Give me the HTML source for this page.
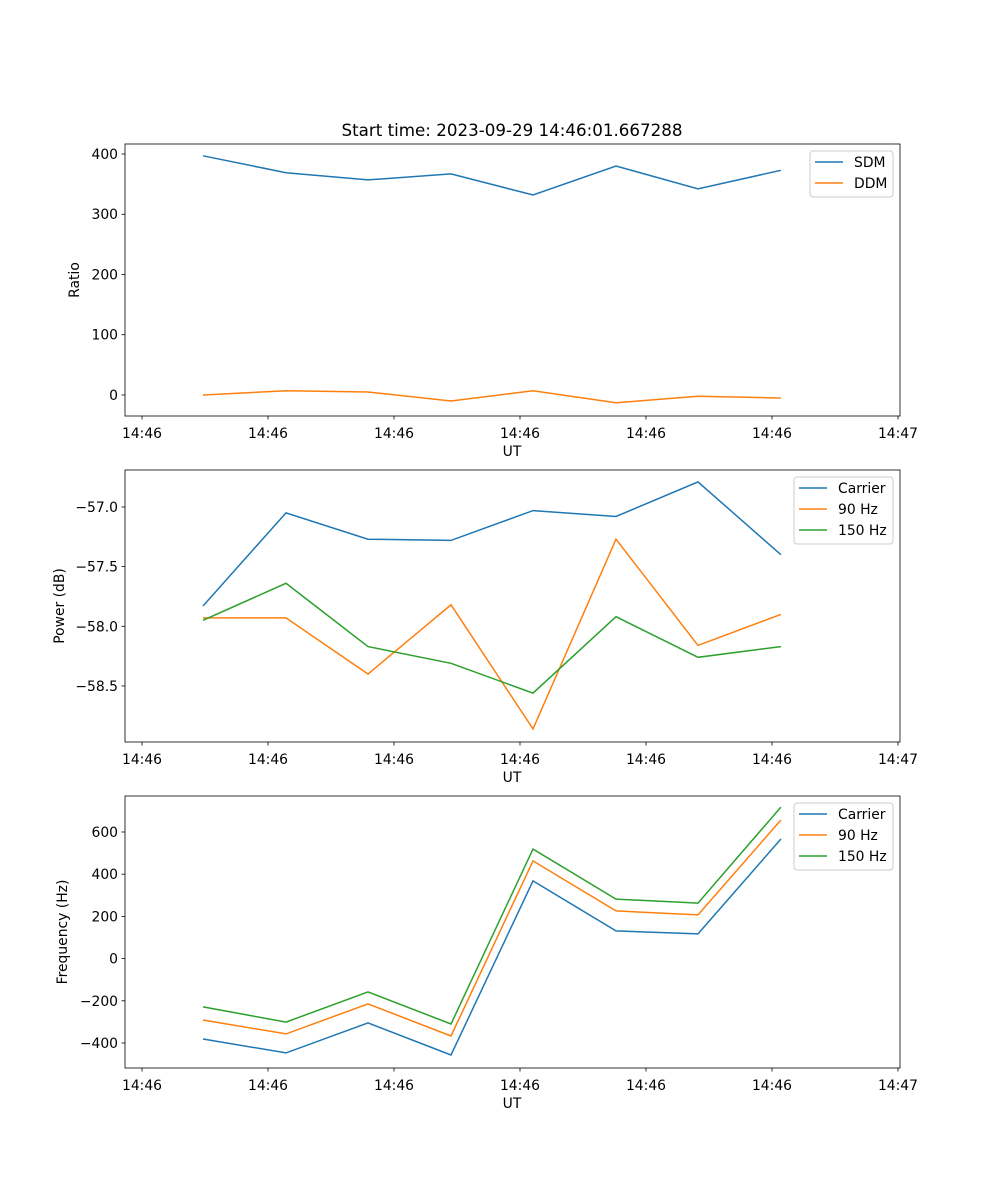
<!DOCTYPE html>
<html><head><meta charset="utf-8"><style>
body{margin:0;background:#fff}
svg{display:block;font-family:"DejaVu Sans","Liberation Sans",sans-serif}
</style></head><body>
<svg id="fig" width="1000" height="1200" xmlns="http://www.w3.org/2000/svg"></svg>
<script>
const times=[4.84,11.43,17.94,24.52,31.03,37.62,44.13,50.71];
const xTickSecs=[0,10,20,30,40,50,60];
const xTickLabels=["14:46","14:46","14:46","14:46","14:46","14:46","14:47"];
const sdm=[397,369,357,367,332,380,342,373];
const ddm=[0,7,5,-10,7,-13,-2,-5];
const powCarrier=[-57.83,-57.05,-57.27,-57.28,-57.03,-57.08,-56.79,-57.40];
const pow90=[-57.93,-57.93,-58.40,-57.82,-58.86,-57.27,-58.16,-57.90];
const pow150=[-57.95,-57.64,-58.17,-58.31,-58.56,-57.92,-58.26,-58.17];
const freqCarrier=[-381,-447,-305,-457,368,131,117,567];
const freq90=[-291,-357,-215,-367,463,226,207,657];
const freq150=[-229,-301,-158,-310,519,282,263,718];
const ticks1=[0,100,200,300,400];
const ticks2=[-58.5,-58.0,-57.5,-57.0];
const ticks3=[-400,-200,0,200,400,600];

const NS="http://www.w3.org/2000/svg";
const svg=document.getElementById('fig');
function el(tag,attrs,parent){const e=document.createElementNS(NS,tag);for(const k in attrs)e.setAttribute(k,attrs[k]);(parent||svg).appendChild(e);return e;}
const X0=125,X1=900,TMIN=-1.35,TMAX=60.16;
const xs=t=>X0+(t-TMIN)/(TMAX-TMIN)*(X1-X0);
const C=['#1f77b4','#ff7f0e','#2ca02c'];
const FS=13.9;

function panel(name,top,vmin,vmax,yticks,fmt,ylabel,series,labels,legend){
  const bot=top+272;
  const ys=v=>bot-(v-vmin)/(vmax-vmin)*272;
  const g=el('g',{});
  
  
  series.forEach((s,i)=>{
    const p=el('polyline',{points:s.map((v,j)=>xs(times[j]).toFixed(1)+','+ys(v).toFixed(1)).join(' '),fill:'none',stroke:C[i],'stroke-width':1.5},g);
    
    
  });
  const fr=el('rect',{x:X0,y:top,width:X1-X0,height:272,fill:'none',stroke:'#000','stroke-width':0.8},g);
  
  
  xTickSecs.forEach((t,i)=>{
    const x=xs(t);
    el('line',{x1:x,x2:x,y1:bot,y2:bot+3.5,stroke:'#000','stroke-width':0.8},g);
    const tx=el('text',{x:x,y:bot+22,'font-size':FS,'text-anchor':'middle'},g);tx.textContent=xTickLabels[i];
    
    
  });
  yticks.forEach(v=>{
    const y=ys(v);
    el('line',{x1:X0,x2:X0-3.5,y1:y,y2:y,stroke:'#000','stroke-width':0.8},g);
    const tx=el('text',{x:X0-7,y:y+5,'font-size':FS,'text-anchor':'end'},g);tx.textContent=fmt(v);
    
    
  });
  const xl=el('text',{x:512,y:bot+40,'font-size':FS,'text-anchor':'middle'},g);xl.textContent='UT';
  
  
  const yl=el('text',{x:0,y:0,'font-size':FS,'text-anchor':'middle',transform:`translate(${legend.ylx},${top+136}) rotate(-90)`},g);yl.textContent=ylabel;
  
  
  const lg=el('g',{},g);
  
  
  el('rect',{x:legend.x,y:top+7,width:legend.w,height:labels.length*21+4,rx:3,fill:'#fff',stroke:'#ccc','stroke-width':1},lg);
  labels.forEach((l,i)=>{
    const y=top+18+i*21;
    el('line',{x1:legend.x+5,x2:legend.x+33,y1:y,y2:y,stroke:C[i],'stroke-width':1.5},lg);
    const tx=el('text',{x:legend.x+legend.tx,y:y+5,'font-size':FS},lg);tx.textContent=l;
    
    
  });
}
const t=el('text',{x:512,y:136,'font-size':16.7,'text-anchor':'middle'});t.textContent='Start time: 2023-09-29 14:46:01.667288';


panel('ratio-panel',144,-34.9,416.6,ticks1,v=>v<0?'\u2212'+(-v):''+v,'Ratio',[sdm,ddm],['SDM','DDM'],{x:810,w:83,tx:44,ylx:79});
panel('power-panel',470,-58.97,-56.69,ticks2,v=>'\u2212'+(-v).toFixed(1),'Power (dB)',[powCarrier,pow90,pow150],['Carrier','90 Hz','150 Hz'],{x:794,w:99,tx:44,ylx:64});
panel('frequency-panel',796,-518.6,770.6,ticks3,v=>v<0?'\u2212'+(-v):''+v,'Frequency (Hz)',[freqCarrier,freq90,freq150],['Carrier','90 Hz','150 Hz'],{x:794,w:99,tx:44,ylx:67});
</script>
</body></html>
